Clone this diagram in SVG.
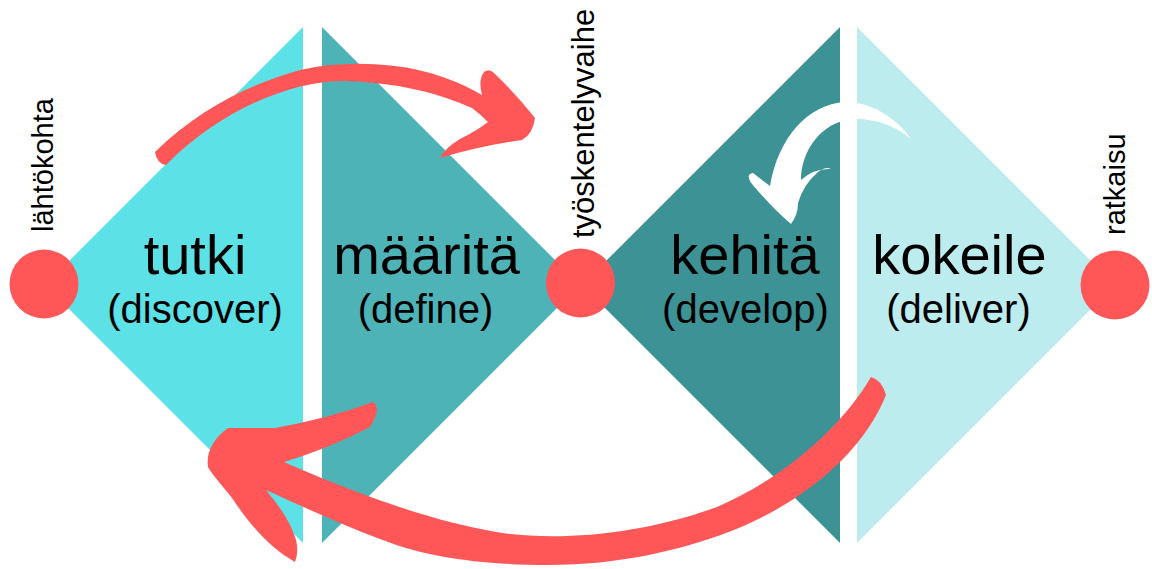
<svg xmlns="http://www.w3.org/2000/svg" width="1152" height="569" viewBox="0 0 1152 569">
<style>
.t{font-family:"Liberation Sans",Arial,sans-serif;fill:#000;text-anchor:middle}
.big{font-size:56px}
.sub{font-size:40px}
.lab{font-family:"Liberation Sans",Arial,sans-serif;font-size:29px;fill:#000}
.dot{fill:#FF5757}
.red{fill:#FF5757}
</style>
<rect width="1152" height="569" fill="#fff"/>
<g id="tutki">
<polygon points="45,285 303,27 303,543" fill="#5CE1E6"/>
<text class="t big" x="195" y="274">tutki</text>
<text class="t sub" x="195" y="323">(discover)</text>
</g>
<g id="maarita">
<polygon points="322,27 580,285 322,543" fill="#4EB3B7"/>
<text class="t big" x="426.5" y="274">määritä</text>
<text class="t sub" x="425.5" y="323">(define)</text>
</g>
<g id="kehita">
<polygon points="582,285 840,27 840,543" fill="#3D9295"/>
<text class="t big" x="745" y="274">kehitä</text>
<text class="t sub" x="745.5" y="323">(develop)</text>
</g>
<g id="kokeile">
<polygon points="857,27 1115,285 857,543" fill="#BCECED"/>
<text class="t big" x="959.5" y="274">kokeile</text>
<text class="t sub" x="958.5" y="323">(deliver)</text>
</g>
<g id="lahtokohta">
<circle class="dot" cx="44" cy="284" r="34.5"/>
<text class="lab" transform="translate(53,232) rotate(-90)">lähtökohta</text>
</g>
<g id="tyoskentelyvaihe">
<circle class="dot" cx="580.5" cy="283" r="34.5"/>
<text class="lab" style="font-size:31px" transform="translate(594,238) rotate(-90)">työskentelyvaihe</text>
</g>
<g id="ratkaisu">
<circle class="dot" cx="1115" cy="285" r="34.5"/>
<text class="lab" transform="translate(1125,235) rotate(-90)">ratkaisu</text>
</g>
<g id="connectors">
<path class="red" d="M155,152 C200,108 250,84 300,70 C330,63 360,62 395,66 C430,70 460,82 482,95 Q478,80 484,72 Q489,68 494,73 Q516,94 535,118 Q533,134 522,140 Q480,146 440,158 Q445,148 460,139 Q478,130 488,122 Q480,114 472,108 C440,94 400,82 340,81 C290,82 220,110 166,165 Q157,164 155,152 Z"/>
<path class="red" d="M871,377 Q882,380 886,395 C862,455 800,505 726,533 C680,550 620,565 547,565 C480,565 425,556 391,543 C360,532 320,515 266,490 C278,505 290,520 296,540 Q299,552 295,562 C270,548 250,525 232,498 C222,485 213,476 208,467 Q205,445 228,428 L275,428 Q330,418 373,402 Q382,408 370,427 Q330,448 284,462 C330,482 420,520 502,533 C560,541 640,535 717,507 C780,480 840,430 871,377 Z"/>
<path fill="#fff" d="M911,139 C895,116 870,102 845,102 C808,104 778,138 770,186 L753,173 Q745,174 752,184 Q772,208 791,224 Q798,215 798,203 Q803,185 818,172 Q826,166 831,169 Q814,168 801,180 C801,150 822,122 852,119 C875,118 896,126 911,139 Z"/>
</g>
</svg>
